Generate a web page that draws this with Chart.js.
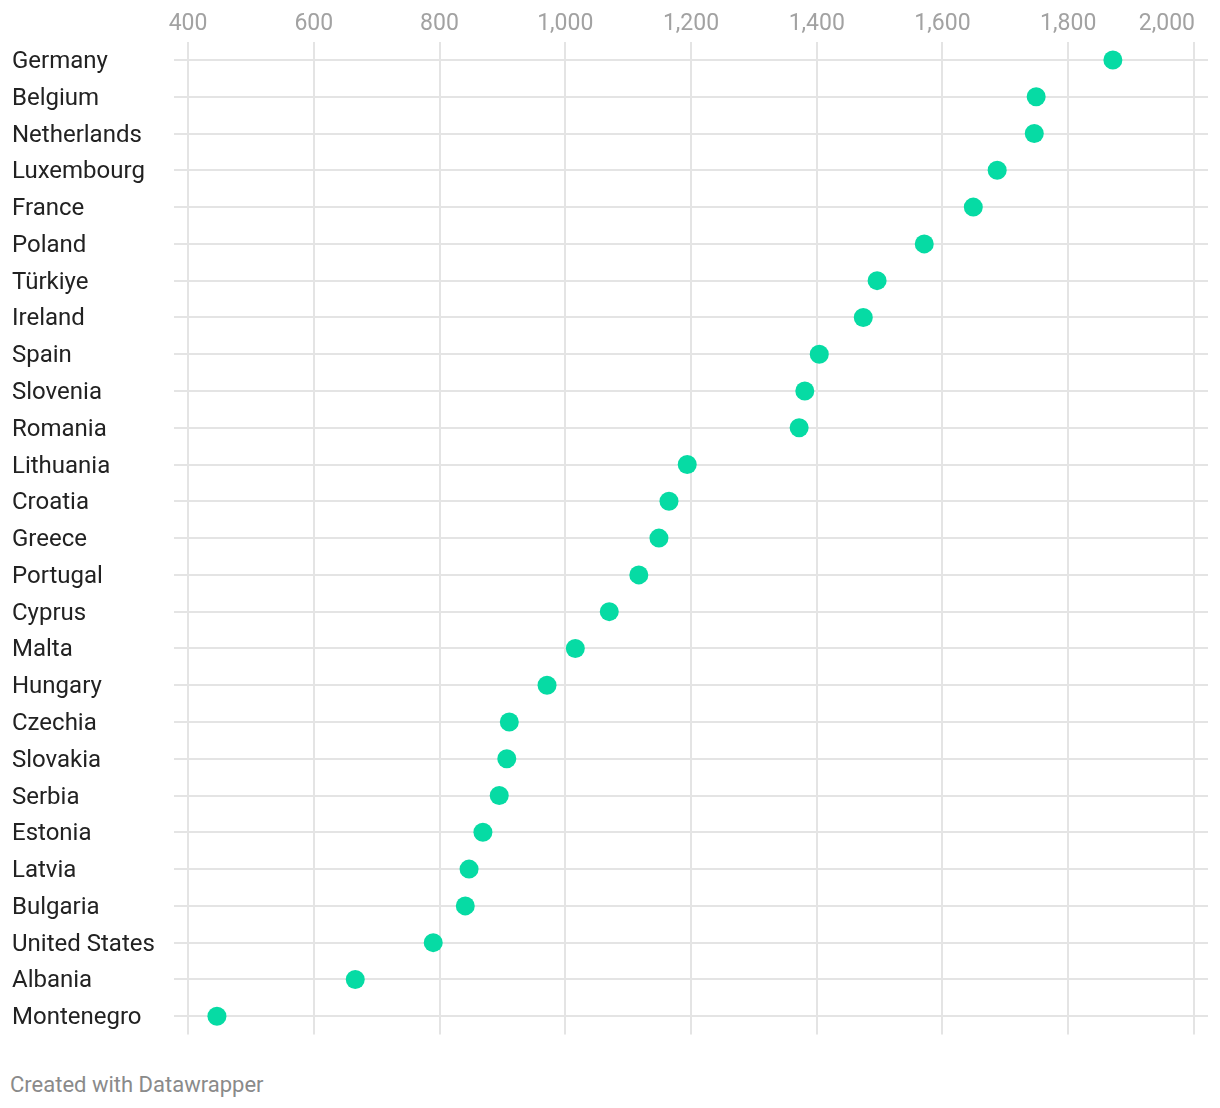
<!DOCTYPE html>
<html>
<head>
<meta charset="utf-8">
<script src="https://cdn.jsdelivr.net/npm/chart.js@4"></script>
<style>
  body { margin: 0; background: #fff; font-family: Roboto, sans-serif; }
  #wrap { position: absolute; left: 0; top: 0; width: 1220px; height: 1049px; }
  #nota { position: absolute; left: 10px; top: 1072px; font-size: 22px; color: #8a8a8a; }
</style>
</head>
<body>
<div id="wrap"><canvas id="grafico"></canvas></div>
<div id="nota">Created with Datawrapper</div>
<script>
const paises = ['Germany', 'Belgium', 'Netherlands', 'Luxembourg', 'France', 'Poland', 'Türkiye',
  'Ireland', 'Spain', 'Slovenia', 'Romania', 'Lithuania', 'Croatia', 'Greece', 'Portugal',
  'Cyprus', 'Malta', 'Hungary', 'Czechia', 'Slovakia', 'Serbia', 'Estonia', 'Latvia',
  'Bulgaria', 'United States', 'Albania', 'Montenegro'];
const valores = [1871, 1749, 1746, 1687, 1649, 1571, 1496, 1474, 1404, 1381, 1372, 1194, 1165,
  1149, 1117, 1070, 1016, 971, 911, 907, 895, 869, 847, 841, 790, 666, 446];
const ticksX = [400, 600, 800, 1000, 1200, 1400, 1600, 1800, 2000];

const fmt = (v) => v.toLocaleString('en-US');
const ultimo = ticksX[ticksX.length - 1];

// last tick label is right-aligned to its gridline, like the original
const ultimoTick = {
  id: 'ultimoTick',
  afterDraw(chart) {
    const x = chart.scales.x;
    const c = chart.ctx;
    c.save();
    c.font = '23px Roboto';
    c.fillStyle = '#a2a2a2';
    c.textAlign = 'right';
    c.textBaseline = 'middle';
    c.fillText(fmt(ultimo), x.getPixelForValue(ultimo) + 1, 24);
    c.restore();
  }
};

const ctx = document.getElementById('grafico').getContext('2d');
const grafico = new Chart(ctx, {
  type: 'line',
  data: {
    labels: paises,
    datasets: [{
      data: valores,
      showLine: false,
      pointRadius: 9.5,
      pointHoverRadius: 9.5,
      pointBackgroundColor: '#06dba4',
      pointBorderWidth: 0
    }]
  },
  options: {
    indexAxis: 'y',
    responsive: true,
    maintainAspectRatio: false,
    animation: false,
    layout: { padding: { left: 12, right: 12, top: 0, bottom: 0 } },
    plugins: { legend: { display: false }, tooltip: { enabled: false } },
    scales: {
      x: {
        type: 'linear',
        position: 'top',
        min: 377.7,
        max: 2022.3,
        afterBuildTicks: (s) => { s.ticks = ticksX.map(v => ({ value: v })); },
        afterFit: (s) => {
          s.height = 41.6;
          s.paddingLeft = 0;
          s.paddingRight = 0;
        },
        border: { display: false },
        grid: { color: '#e4e4e4', lineWidth: 2, drawTicks: false },
        ticks: {
          padding: 4,
          color: '#a2a2a2',
          font: { family: 'Roboto', size: 23 },
          maxRotation: 0,
          autoSkip: false,
          callback: (v) => v === ultimo ? '' : fmt(v)
        }
      },
      y: {
        type: 'category',
        offset: true,
        afterFit: (s) => { s.width = 162; },
        border: { display: false },
        grid: { color: '#e4e4e4', lineWidth: 2, drawTicks: false, offset: false },
        ticks: {
          crossAlign: 'far',
          padding: 0,
          labelOffset: 2,
          color: '#222',
          font: { family: 'Roboto', size: 24 },
          autoSkip: false
        }
      }
    }
  },
  plugins: [ultimoTick]
});
</script>
</body>
</html>
